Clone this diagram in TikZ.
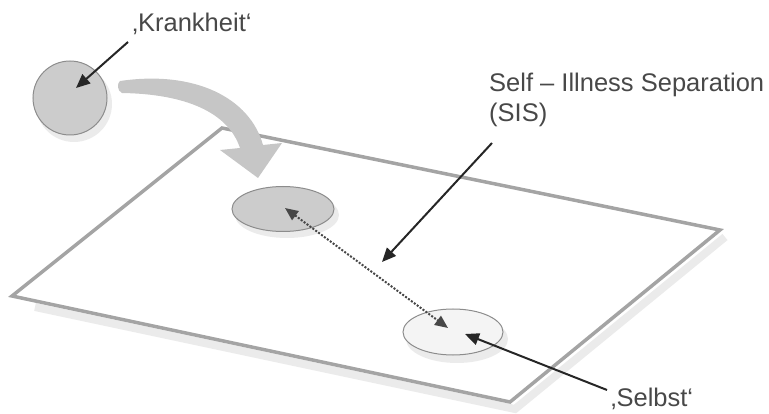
\documentclass[tikz,border=0pt]{standalone}
\usepackage{fontspec}
\setmainfont{Liberation Sans}
\usetikzlibrary{arrows.meta,shapes.geometric}
\definecolor{txtc}{RGB}{72,72,72}
\definecolor{planec}{RGB}{164,164,164}
\definecolor{darkfill}{RGB}{204,204,204}
\definecolor{lightfill}{RGB}{244,244,244}
\definecolor{edgec}{RGB}{140,140,140}
\definecolor{bigarrow}{RGB}{198,198,198}
\tikzset{
  lbl/.style={text=txtc, font=\fontsize{25.5}{30}\selectfont, inner sep=0pt},
  blob/.style={draw=edgec, line width=1pt, inner sep=0pt},
  shad/.style={fill=black!8, draw=none},
  pointer/.style={draw=black!85, line width=2pt, -{Triangle[length=14pt,width=12pt]}},
  sep/.style={draw=black!72, line width=2pt, dash pattern=on 2pt off 1.6pt, {Triangle[length=13pt,width=11pt]}-{Triangle[length=13pt,width=11pt]}}
}
\begin{document}
\begin{tikzpicture}[x=1pt,y=-1pt]
\useasboundingbox (0,0) rectangle (769,414);
% plane shadow (right and bottom)
\draw[black!8, line width=8pt, shift={(5,7)}] (30,300) -- (510,402) -- (720,230);
\draw[planec, line width=3.5pt, line join=miter] (12,296) -- (222,128) -- (720,230) -- (510,402) -- cycle;
% big curved arrow
\fill[bigarrow] (120,81) .. controls (195,70) and (250,98) .. (263,145)
  -- (282,143) -- (258,178) -- (220,150) -- (240,148)
  .. controls (228,112) and (185,94) .. (122,93) .. controls (117,91) and (117,83) .. (120,81) -- cycle;
% shadows of blobs
\fill[shad] (74,104) circle (38);
\fill[shad] (287,215) ellipse (52 and 23);
\fill[shad] (457,339) ellipse (51 and 24);
% blobs
\node[blob, circle, fill=darkfill, minimum size=74pt] (K) at (70,98) {};
\node[blob, ellipse, fill=darkfill, minimum width=102pt, minimum height=45pt] (E1) at (283,209) {};
\node[blob, ellipse, fill=lightfill, minimum width=100pt, minimum height=46pt] (E2) at (453,332) {};
% labels
\node[lbl] (tK) at (192,24) {‚Krankheit‘};
\node[lbl, anchor=north west, align=left] (tS) at (489,73) {Self – Illness Separation\\(SIS)};
\node[lbl] (tB) at (652,399) {‚Selbst‘};
% coordinates
\coordinate (kTip) at (76,88);
\coordinate (kStart) at (128,42);
\coordinate (sStart) at (492,143);
\coordinate (sTip) at (382,262);
\coordinate (bStart) at (607,390);
\coordinate (bTip) at (465,334);
\coordinate (d1) at (285,208);
\coordinate (d2) at (448,328);
% arrows
\draw[pointer] (kStart) -- (kTip);
\draw[pointer] (sStart) -- (sTip);
\draw[pointer] (bStart) -- (bTip);
\draw[sep] (d1) -- (d2);
\end{tikzpicture}
\end{document}
